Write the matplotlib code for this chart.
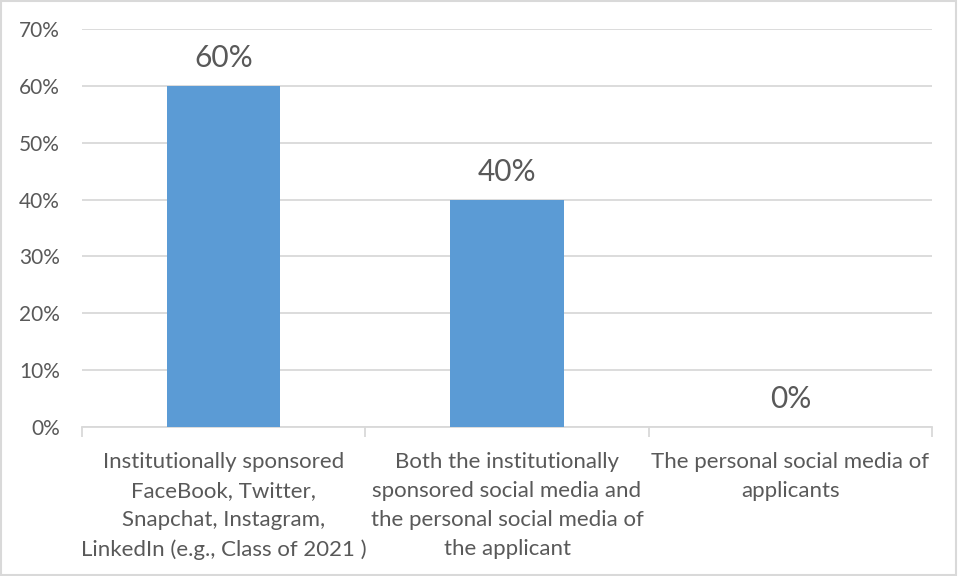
import numpy as np
import matplotlib.pyplot as plt
from matplotlib.ticker import PercentFormatter

# Data
categories = [
    "Institutionally sponsored\nFaceBook, Twitter,\nSnapchat, Instagram,\nLinkedIn (e.g., Class of 2021 )",
    "Both the institutionally\nsponsored social media and\nthe personal social media of\nthe applicant",
    "The personal social media of\napplicants",
]
values = [60, 40, 0]
yticks = [0, 10, 20, 30, 40, 50, 60, 70]

bar_color = "#5B9BD5"
text_color = "#595959"
grid_color = "#D9D9D9"

plt.rcParams['font.family'] = ['Lato', 'DejaVu Sans']

fig = plt.figure(figsize=(9.58, 5.76), dpi=100)
ax = fig.add_axes([82/958, 1 - 427/576, (932-82)/958, (427-29)/576])

x = np.arange(len(categories))
bars = ax.bar(x, values, width=0.4, color=bar_color, zorder=3)

# data labels
for xi, v in zip(x, values):
    ax.annotate(f"{v}%", (xi, v), xytext=(0, 10), textcoords="offset points",
                ha="center", va="bottom", fontsize=21.5, color=text_color)

ax.set_xlim(-0.5, len(categories) - 0.5)
ax.set_ylim(0, 70)
ax.set_yticks(yticks)
ax.yaxis.set_major_formatter(PercentFormatter(decimals=0))
ax.grid(axis="y", color=grid_color, linewidth=1.3, zorder=0)

ax.set_xticks(x)
ax.set_xticklabels(categories, fontsize=16, color=text_color, linespacing=1.57)
ax.set_xticks(np.arange(len(categories) + 1) - 0.5, minor=True)
ax.tick_params(axis="x", which="major", length=0, pad=18)
ax.tick_params(axis="x", which="minor", length=7, color=grid_color, width=1.3)
ax.tick_params(axis="y", length=0, labelsize=15, labelcolor=text_color, pad=16)

for s in ["top", "right", "left"]:
    ax.spines[s].set_visible(False)
ax.spines["bottom"].set_color(grid_color)
ax.spines["bottom"].set_linewidth(1.3)

# chart border
fig.patches.append(plt.Rectangle((0.001, 0.002), 0.997, 0.996, transform=fig.transFigure,
                                 fill=False, edgecolor=grid_color, linewidth=1.5))

fig.savefig("out.png", dpi=100)
